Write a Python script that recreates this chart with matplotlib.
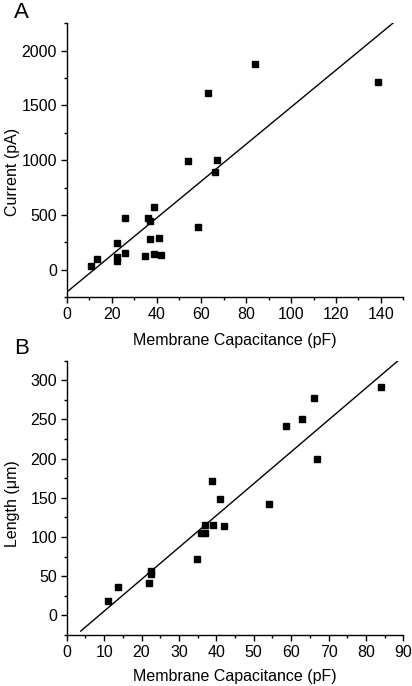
import matplotlib
matplotlib.use("Agg")
import matplotlib.pyplot as plt
import numpy as np
from matplotlib.ticker import MultipleLocator, AutoMinorLocator

plt.rcParams['font.family'] = ['Liberation Sans', 'DejaVu Sans']

# Panel A data
cap_a = [10.8, 13.6, 22.2, 22.5, 22.5, 25.8, 25.8, 34.7, 36.0, 37.1, 36.9, 38.8, 39.0,
         41.1, 42.1, 58.7, 54.1, 66.0, 67.0, 63.0, 83.9, 138.6]
current_a = [30, 97, 115, 82, 242, 470, 149, 127, 470, 448, 279, 570, 142,
             285, 133, 388, 988, 891, 1006, 1618, 1879, 1718]
fit_a_slope, fit_a_icpt = 16.9, -205
fit_a_x = [0, 150]

# Panel B data
cap_b = [84.0, 66.0, 63.0, 58.7, 67.0, 38.9, 41.0, 54.0, 10.9, 13.7, 22.1, 22.5, 22.5,
         34.8, 36.0, 37.0, 37.0, 39.1, 42.1]
length_b = [291, 278, 250, 242, 199, 172, 148, 142, 18, 36, 41, 57, 53,
            71.5, 105.5, 105, 115, 115, 113.6]
fit_b_slope, fit_b_icpt = 4.066, -35.2
fit_b_x = [3.74, 95]

fig = plt.figure(figsize=(4.12, 6.86), dpi=100)
axA = fig.add_axes([0.162, 0.567, 0.817, 0.399])
axB = fig.add_axes([0.162, 0.0743, 0.817, 0.3999])

FS = 11.5

def style(ax):
    for s in ['top', 'right']:
        ax.spines[s].set_visible(False)
    for s in ['left', 'bottom']:
        ax.spines[s].set_linewidth(1.0)
    ax.tick_params(which='major', direction='out', length=4, width=1, labelsize=FS, pad=3)
    ax.tick_params(which='minor', direction='out', length=2.5, width=1)
    ax.xaxis.set_minor_locator(AutoMinorLocator(2))
    ax.yaxis.set_minor_locator(AutoMinorLocator(2))

# Panel A
xa = np.array(fit_a_x)
axA.plot(xa, fit_a_slope * xa + fit_a_icpt, color='black', lw=1.0)
axA.plot(cap_a, current_a, 's', color='black', markersize=5, clip_on=False)
axA.set_xlim(0, 150)
axA.set_ylim(-250, 2250)
axA.xaxis.set_major_locator(MultipleLocator(20))
axA.yaxis.set_major_locator(MultipleLocator(500))
style(axA)
axA.set_xlabel('Membrane Capacitance (pF)', fontsize=FS, labelpad=8)
axA.set_ylabel('Current (pA)', fontsize=FS)
axA.yaxis.set_label_coords(-0.138, 0.457)
fig.text(0.052, 0.997, 'A', fontsize=16, ha='center', va='top')

# Panel B
xb = np.array(fit_b_x)
axB.plot(xb, fit_b_slope * xb + fit_b_icpt, color='black', lw=1.0)
axB.plot(cap_b, length_b, 's', color='black', markersize=5, clip_on=False)
axB.set_xlim(0, 90)
axB.set_ylim(-25, 325)
axB.xaxis.set_major_locator(MultipleLocator(10))
axB.yaxis.set_major_locator(MultipleLocator(50))
style(axB)
axB.set_xlabel('Membrane Capacitance (pF)', fontsize=FS, labelpad=7)
axB.set_ylabel('Length (μm)', fontsize=FS)
axB.yaxis.set_label_coords(-0.138, 0.478)
fig.text(0.052, 0.508, 'B', fontsize=16, ha='center', va='top')

fig.savefig('out.png', dpi=100)
